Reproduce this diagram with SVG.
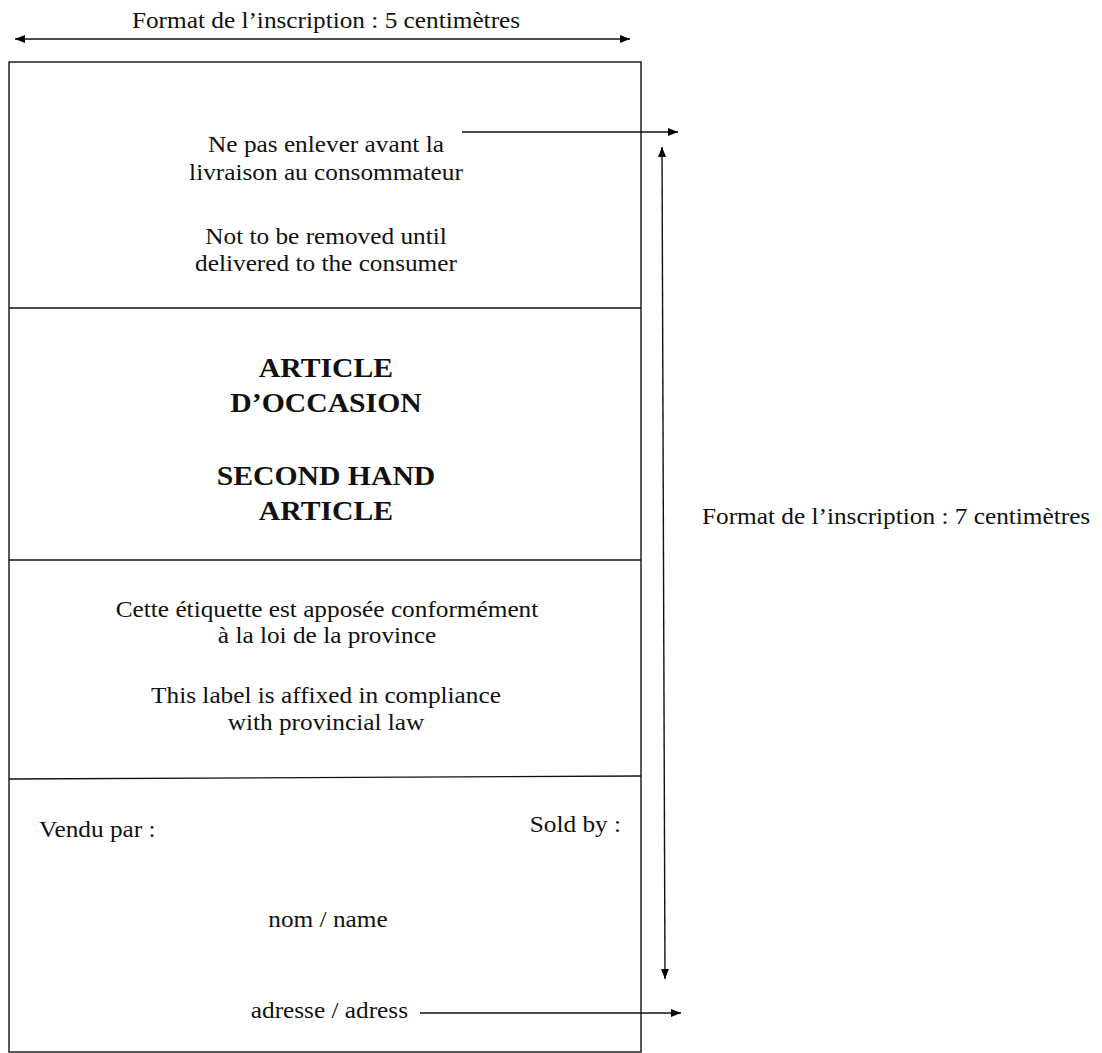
<svg xmlns="http://www.w3.org/2000/svg" width="1102" height="1053" viewBox="0 0 1102 1053">
<defs>
<marker id="ah" viewBox="0 0 10 10" refX="10" refY="5" markerWidth="11" markerHeight="10" markerUnits="userSpaceOnUse" orient="auto-start-reverse">
<path d="M0,1 L10,5 L0,9 z" fill="#000"/>
</marker>
<style>
.t{font-family:"Liberation Serif","Times New Roman",serif;font-size:23px;fill:#111;}
.c{text-anchor:middle;}
.e{text-anchor:end;}
.b{font-family:"Liberation Serif","Times New Roman",serif;font-size:27px;font-weight:bold;fill:#111;text-anchor:middle;}
.ln{stroke:#111;stroke-width:1.4;fill:none;}
.ar{stroke:#111;stroke-width:1.4;fill:none;marker-end:url(#ah);}
.ar2{stroke:#111;stroke-width:1.4;fill:none;marker-start:url(#ah);marker-end:url(#ah);}
</style>
</defs>
<rect width="1102" height="1053" fill="#fff"/>
<g id="label">
<rect class="ln" x="9" y="62" width="632" height="990"/>
<line class="ln" x1="9" y1="308" x2="641" y2="308"/>
<line class="ln" x1="9" y1="560" x2="641" y2="560"/>
<line class="ln" x1="9" y1="779" x2="641" y2="776"/>
</g>
<g id="sec1">
<text class="t c" transform="translate(326,152) scale(1.1,1)">Ne pas enlever avant la</text>
<text class="t c" transform="translate(326,180) scale(1.1,1)">livraison au consommateur</text>
<text class="t c" transform="translate(326,244) scale(1.1,1)">Not to be removed until</text>
<text class="t c" transform="translate(326,271) scale(1.1,1)">delivered to the consumer</text>
</g>
<g id="sec2">
<text class="b" transform="translate(326,377) scale(1.1,1)">ARTICLE</text>
<text class="b" transform="translate(326,412) scale(1.1,1)">D’OCCASION</text>
<text class="b" transform="translate(326,485) scale(1.1,1)">SECOND HAND</text>
<text class="b" transform="translate(326,520) scale(1.1,1)">ARTICLE</text>
</g>
<g id="sec3">
<text class="t c" transform="translate(327,617) scale(1.1,1)">Cette étiquette est apposée conformément</text>
<text class="t c" transform="translate(327,643) scale(1.1,1)">à la loi de la province</text>
<text class="t c" transform="translate(326,703) scale(1.1,1)">This label is affixed in compliance</text>
<text class="t c" transform="translate(326,730) scale(1.1,1)">with provincial law</text>
</g>
<g id="sec4">
<text class="t" transform="translate(39,837) scale(1.1,1)">Vendu par :</text>
<text class="t e" transform="translate(621,832) scale(1.1,1)">Sold by :</text>
<text class="t c" transform="translate(328,927) scale(1.1,1)">nom / name</text>
<text class="t e" transform="translate(408,1018) scale(1.1,1)">adresse / adress</text>
</g>
<g id="dim-labels">
<text class="t c" transform="translate(326,28) scale(1.1,1)">Format de l’inscription : 5 centimètres</text>
<text class="t" transform="translate(702,524) scale(1.1,1)">Format de l’inscription : 7 centimètres</text>
</g>
<g id="connectors">
<line class="ar2" x1="15" y1="39" x2="630" y2="39"/>
<line class="ar" x1="462" y1="132" x2="678" y2="132"/>
<line class="ar2" x1="662" y1="147" x2="665" y2="979"/>
<line class="ar" x1="420" y1="1013" x2="681" y2="1013"/>
</g>
</svg>
